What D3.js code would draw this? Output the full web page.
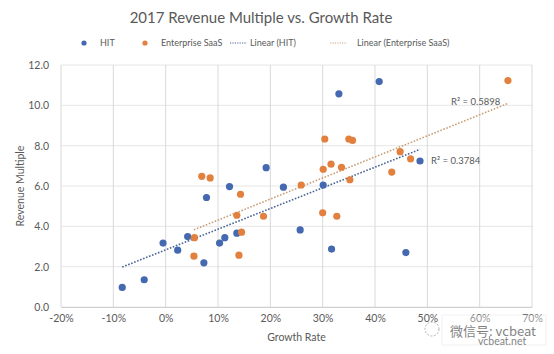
<!DOCTYPE html>
<html>
<head>
<meta charset="utf-8">
<script src="https://cdn.jsdelivr.net/npm/d3@7"></script>
<style>
  body { margin: 0; background: #fff; }
  text { font-family: Lato, "Open Sans", sans-serif; fill: #595959; }
</style>
</head>
<body>
<div id="chart"></div>
<script>
// data
const titleText = "2017 Revenue Multiple vs. Growth Rate";
const seriesNames = ["HIT", "Enterprise SaaS"];
const hitGrowth = [-0.083, -0.041, -0.005, 0.023, 0.042, 0.073, 0.078, 0.103, 0.113, 0.122,
    0.136, 0.192, 0.225, 0.257, 0.301, 0.317, 0.331, 0.408, 0.459, 0.486];
const hitMultiple = [0.97, 1.35, 3.17, 2.82, 3.49, 2.19, 5.43, 3.17, 3.44, 5.97,
    3.66, 6.91, 5.94, 3.82, 6.05, 2.87, 10.57, 11.18, 2.70, 7.24];
const saasGrowth = [0.055, 0.054, 0.069, 0.085, 0.136, 0.140, 0.143, 0.145, 0.187, 0.259,
    0.300, 0.301, 0.304, 0.316, 0.327, 0.336, 0.350, 0.352, 0.357, 0.432, 0.448, 0.468, 0.654];
const saasMultiple = [3.44, 2.52, 6.48, 6.40, 4.55, 2.57, 5.59, 3.71, 4.50, 6.05,
    4.67, 6.83, 8.33, 7.08, 4.50, 6.93, 8.33, 6.31, 8.26, 6.69, 7.70, 7.35, 11.23];
const rSquared = ["R² = 0.3784", "R² = 0.5898"];
const xTicks = [-0.2, -0.1, 0, 0.1, 0.2, 0.3, 0.4, 0.5, 0.6, 0.7];
const yTicks = [0, 2, 4, 6, 8, 10, 12];

const colors = ["#4469b0", "#e2803f"];
const trendColors = ["#4a6496", "#c9a07a"];

const W = 554, H = 354;
const margin = { top: 65, right: 22, bottom: 47, left: 61 };
const width = W - margin.left - margin.right;
const height = H - margin.top - margin.bottom;

const svg = d3.select("#chart").append("svg")
    .attr("width", W)
    .attr("height", H);

const g = svg.append("g")
    .attr("transform", `translate(${margin.left},${margin.top})`);

const x = d3.scaleLinear().domain([-0.2, 0.7]).range([0, width]);
const y = d3.scaleLinear().domain([0, 12]).range([height, 0]);

// gridlines
g.append("g").selectAll("line").data(yTicks).join("line")
    .attr("x1", 0).attr("x2", width)
    .attr("y1", d => y(d)).attr("y2", d => y(d))
    .attr("stroke", "#e6e6e6").attr("stroke-width", 1);
g.append("g").selectAll("line").data(xTicks).join("line")
    .attr("y1", 0).attr("y2", height)
    .attr("x1", d => x(d)).attr("x2", d => x(d))
    .attr("stroke", "#d9d9d9").attr("stroke-width", 1);

// axes
const xAxis = d3.axisBottom(x).tickValues(xTicks)
    .tickFormat(d => Math.round(d * 100) + "%").tickSize(0).tickPadding(8);
const yAxis = d3.axisLeft(y).tickValues(yTicks)
    .tickFormat(d3.format(".1f")).tickSize(0).tickPadding(12);

g.append("g").attr("transform", `translate(0,${height})`).call(xAxis)
    .call(a => a.select(".domain").attr("stroke", "#d0d0d0"))
    .selectAll("text").style("font-size", "10.5px").attr("fill", "#595959");
g.append("g").call(yAxis)
    .call(a => a.select(".domain").remove())
    .selectAll("text").style("font-size", "10.5px").attr("fill", "#595959");

// linear trendlines (least squares)
function fit(xs, ys) {
    const mx = d3.mean(xs), my = d3.mean(ys);
    const sxy = d3.sum(xs, (v, i) => (v - mx) * (ys[i] - my));
    const sxx = d3.sum(xs, v => (v - mx) * (v - mx));
    const b = sxy / sxx;
    const a = my - b * mx;
    const x0 = d3.min(xs), x1 = d3.max(xs);
    return [[x0, a + b * x0], [x1, a + b * x1]];
}
const trends = [fit(hitGrowth, hitMultiple), fit(saasGrowth, saasMultiple)];
const line = d3.line().x(d => x(d[0])).y(d => y(d[1]));

trends.forEach((t, i) => {
    g.append("path").datum(t)
        .attr("d", line)
        .attr("fill", "none")
        .attr("stroke", trendColors[i])
        .attr("stroke-width", 1.6)
        .attr("stroke-dasharray", "1.6,1.6");
});

// points
const hitPts = hitGrowth.map((v, i) => [v, hitMultiple[i]]);
const saasPts = saasGrowth.map((v, i) => [v, saasMultiple[i]]);
[hitPts, saasPts].forEach((pts, i) => {
    g.append("g").selectAll("circle").data(pts).join("circle")
        .attr("cx", d => x(d[0]))
        .attr("cy", d => y(d[1]))
        .attr("r", 3.6)
        .attr("fill", colors[i]);
});

// R² labels
g.append("text").attr("x", 431 - margin.left).attr("y", 164 - margin.top)
    .style("font-size", "9.5px").text(rSquared[0]);
g.append("text").attr("x", 451 - margin.left).attr("y", 105 - margin.top)
    .style("font-size", "9.5px").text(rSquared[1]);

// axis titles
svg.append("text").attr("x", margin.left + width / 2).attr("y", 341)
    .attr("text-anchor", "middle").style("font-size", "10.5px").text("Growth Rate");
svg.append("text")
    .attr("transform", `translate(24,${margin.top + height / 2}) rotate(-90)`)
    .attr("text-anchor", "middle").style("font-size", "10.5px").text("Revenue Multiple");

// title
svg.append("text").attr("x", 261).attr("y", 23)
    .attr("text-anchor", "middle").style("font-size", "15px").text(titleText);

// legend
const legend = svg.append("g").attr("transform", "translate(0,43)");
const legendItems = [
    { type: "dot", c: colors[0], x: 84, label: seriesNames[0], tx: 100 },
    { type: "dot", c: colors[1], x: 145, label: seriesNames[1], tx: 161 },
    { type: "line", c: trendColors[0], x: 230, label: "Linear (" + seriesNames[0] + ")", tx: 250 },
    { type: "line", c: "#d0a682", x: 330, label: "Linear (" + seriesNames[1] + ")", tx: 357 }
];
legendItems.forEach(it => {
    if (it.type === "dot") {
        legend.append("circle").attr("cx", it.x).attr("cy", 0).attr("r", 2.6).attr("fill", it.c);
    } else {
        legend.append("line").attr("x1", it.x).attr("x2", it.x + 17).attr("y1", 0).attr("y2", 0)
            .attr("stroke", it.c).attr("stroke-width", 1.2).attr("stroke-dasharray", "1.2,1.2");
    }
    legend.append("text").attr("x", it.tx).attr("y", 3.3)
        .style("font-size", "9px").text(it.label);
});

// watermark
const wm = svg.append("g").attr("opacity", 0.75);
wm.append("rect").attr("x", 442).attr("y", 315).attr("width", 104).attr("height", 30)
    .attr("fill", "#fff").attr("opacity", 0.5).attr("stroke", "#ddd");
wm.append("circle").attr("cx", 432).attr("cy", 329).attr("r", 7)
    .attr("fill", "none").attr("stroke", "#999").attr("stroke-dasharray", "2,1.5");
wm.append("text").attr("x", 450).attr("y", 336).style("font-size", "13px")
    .style("font-family", "'Noto Sans CJK SC', sans-serif").attr("fill", "#444").text("微信号: vcbeat");
wm.append("text").attr("x", 478).attr("y", 345).style("font-size", "10.5px")
    .attr("fill", "#ccc").text("vcbeat.net");
</script>
</body>
</html>
